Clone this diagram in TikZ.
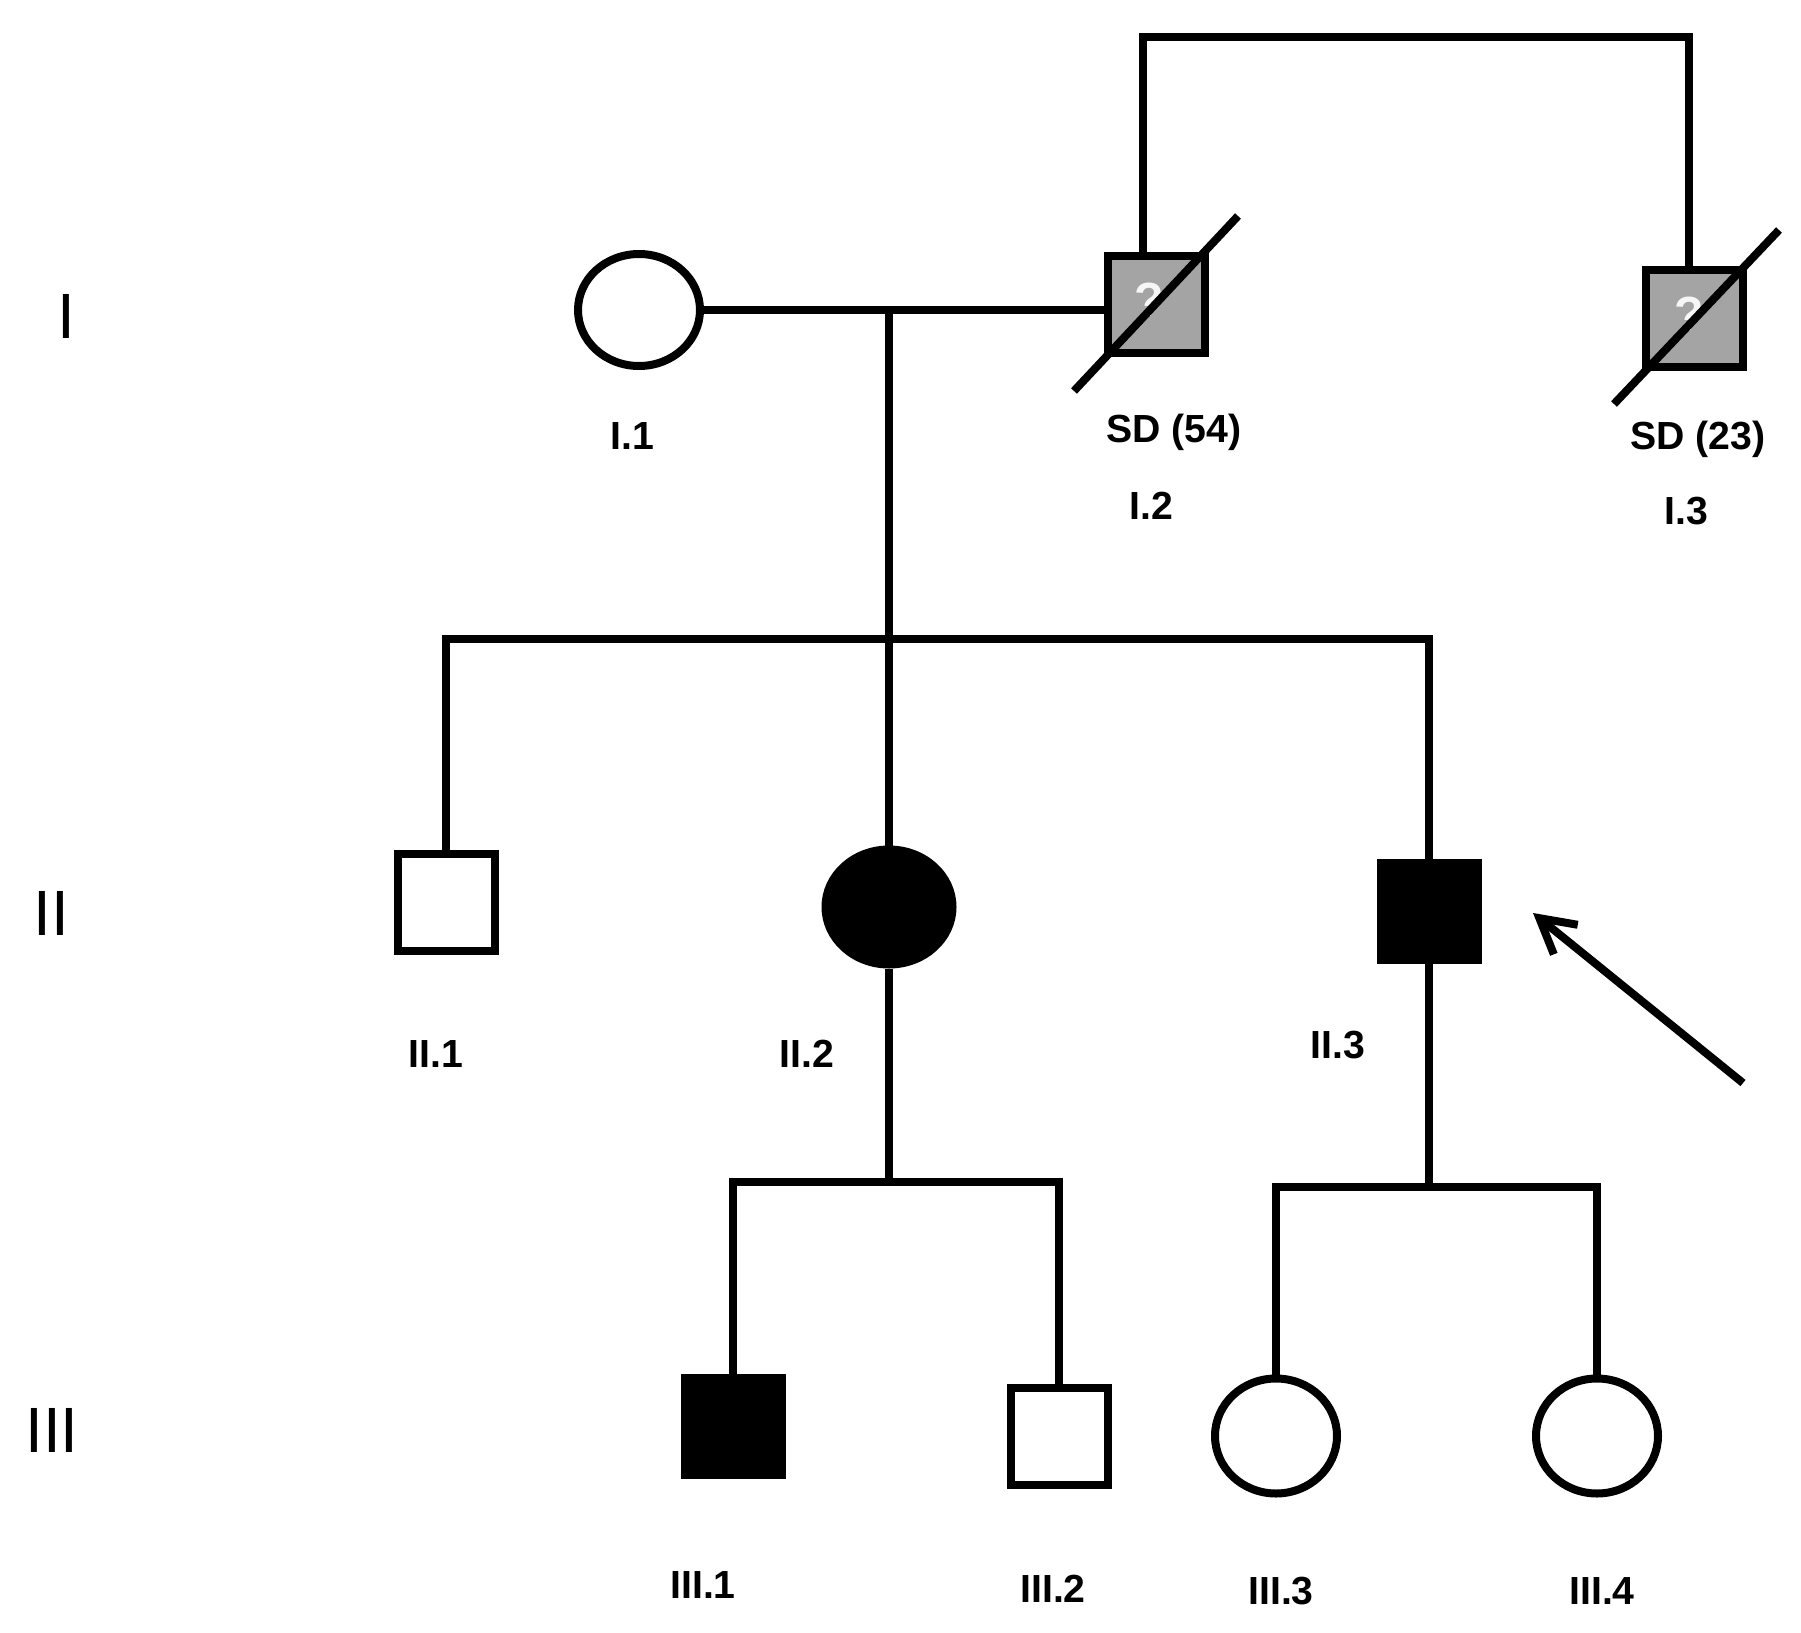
\documentclass[tikz,border=0pt]{standalone}
\usepackage{fontspec}
\setmainfont{Liberation Sans}
\usetikzlibrary{shapes.geometric,arrows.meta}
\definecolor{unkgray}{RGB}{164,164,164}
\begin{document}
\begin{tikzpicture}[x=0.5pt,y=-0.5pt,
  line width=4pt,
  male/.style={draw,rectangle,minimum width=48.5pt,minimum height=48.5pt,inner sep=0pt},
  female/.style={draw,ellipse,minimum width=61pt,minimum height=56pt,inner sep=0pt},
  affected/.style={fill=black},
  unknown/.style={fill=unkgray},
  idlabel/.style={font=\bfseries\fontsize{19.6}{21}\selectfont,inner sep=0pt},
  genlabel/.style={font=\fontsize{32}{36}\selectfont,inner sep=0pt},
  qmark/.style={font=\bfseries\fontsize{24}{26}\selectfont,text=white!90!unkgray,inner sep=0pt},
  conn/.style={line width=4pt},
  deceased/.style={line width=4pt}]
\useasboundingbox (0,0) rectangle (1801,1633);

% generation labels
\node[genlabel] (gI) at (66,316) {I};
\node[genlabel] (gII) at (51,913) {II};
\node[genlabel] (gIII) at (52,1430) {III};

% generation I
\node[female] (I1) at (639,310) {};
\node[male,unknown] (I2) at (1156,304) {};
\node[male,unknown] (I3) at (1694,318) {};
\node[qmark] (q2) at (1149,300) {?};
\node[qmark] (q3) at (1689,314) {?};
\coordinate (d2a) at (1074,391);
\coordinate (d2b) at (1238,216);
\coordinate (d3a) at (1614,404);
\coordinate (d3b) at (1779,230);
\draw[deceased] (d2a) -- (d2b);
\draw[deceased] (d3a) -- (d3b);

\node[idlabel] (lI1) at (632,436) {I.1};
\node[idlabel] (sd2) at (1174,432) {SD (54)};
\node[idlabel] (lI2) at (1151,506) {I.2};
\node[idlabel] (sd3) at (1698,439) {SD (23)};
\node[idlabel] (lI3) at (1686,511) {I.3};

% generation II
\node[male] (II1) at (446,902) {};
\node[female,affected,minimum width=63.5pt,minimum height=57.5pt] (II2) at (889,907) {};
\node[male,affected] (II3) at (1429,911) {};

\node[idlabel] (lII1) at (436,1054) {II.1};
\node[idlabel] (lII2) at (807,1054) {II.2};
\node[idlabel] (lII3) at (1338,1045) {II.3};

% generation III
\node[male,affected] (III1) at (733,1426) {};
\node[male] (III2) at (1059,1436) {};
\node[female,minimum height=57.5pt] (III3) at (1276,1436) {};
\node[female,minimum height=57.5pt] (III4) at (1597,1436) {};

\node[idlabel] (lIII1) at (703,1585) {III.1};
\node[idlabel] (lIII2) at (1053,1589) {III.2};
\node[idlabel] (lIII3) at (1281,1591) {III.3};
\node[idlabel] (lIII4) at (1602,1591) {III.4};

% connectors
\coordinate (top) at (1416,37);
\coordinate (m1) at (889,310);
\coordinate (s2) at (889,639);
\coordinate (c2) at (889,1182);
\coordinate (c3) at (1429,1187);

\draw[conn] (I1.east) -- (I1.east -| I2.west);
\draw[conn] ([xshift=-6.5pt]I2.north) |- (top) -| ([xshift=-2.5pt]I3.north);
\draw[conn] (m1) -- (II2.north);
\draw[conn] (II1.north) |- (s2) -| (II3.north);
\draw[conn] (II2.south) -- (c2);
\draw[conn] (III1.north) |- (c2) -| (III2.north);
\draw[conn] (II3.south) -- (c3);
\draw[conn] (III3.north) |- (c3) -| (III4.north);

% proband arrow
\coordinate (arrtail) at (1743,1083);
\coordinate (arrtip) at (1533,913);
\draw[conn,-{Straight Barb[length=17pt,width=19pt]}] (arrtail) -- (arrtip);
\end{tikzpicture}
\end{document}
